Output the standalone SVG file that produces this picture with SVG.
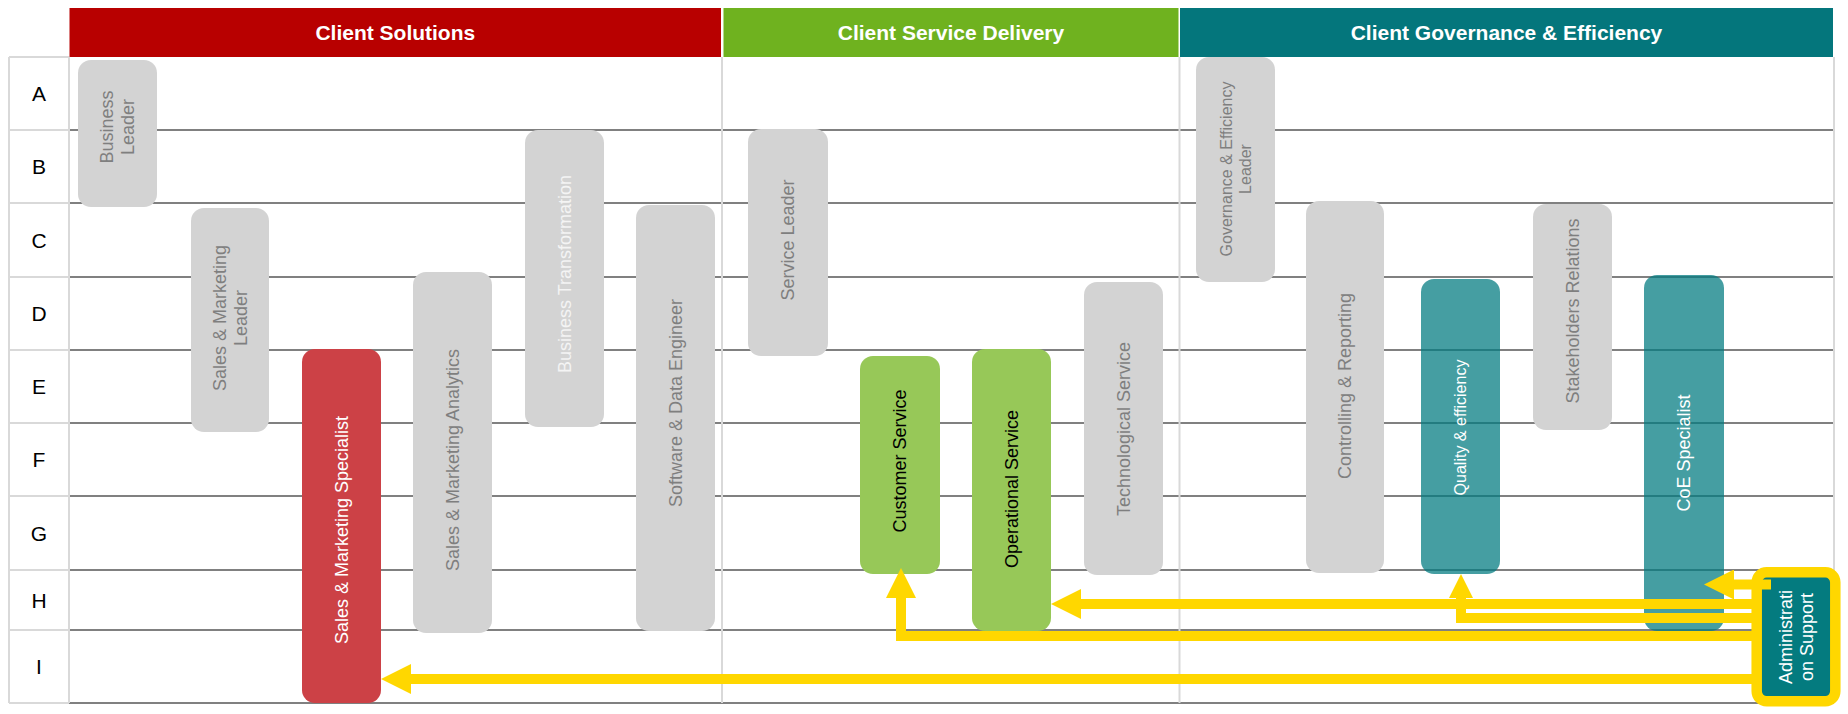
<svg xmlns="http://www.w3.org/2000/svg" width="1848" height="714" viewBox="0 0 1848 714">
<style>
.hdr{font-family:"Liberation Sans",Arial,sans-serif;font-weight:bold;font-size:21px;fill:#ffffff;text-anchor:middle}
.row{font-family:"Liberation Sans",Arial,sans-serif;font-size:21px;fill:#000000;text-anchor:middle}
.lbl{font-family:"Liberation Sans",Arial,sans-serif;font-size:18px;text-anchor:middle}
.gray{fill:#d3d3d3}
.gt{fill:#7f7f7f}
.wt{fill:#ffffff}
.bt{fill:#000000}
.tealT{fill:#007a80;fill-opacity:0.73}
.lgl{stroke:#d9d9d9;stroke-width:2;fill:none}
.dgl{stroke:#808080;stroke-width:2;fill:none}
.conn{stroke:#ffd700;stroke-width:10;fill:none;stroke-linejoin:miter;stroke-linecap:butt}
</style>
<defs>
<marker id="ah" viewBox="0 0 30 30" refX="0" refY="15" markerWidth="30" markerHeight="30" markerUnits="userSpaceOnUse" orient="auto"><path d="M0,0 L30,15 L0,30 Z" fill="#ffd700"/></marker>
<marker id="ahs" viewBox="0 0 24 24" refX="0" refY="12" markerWidth="24" markerHeight="24" markerUnits="userSpaceOnUse" orient="auto"><path d="M0,0 L24,12 L0,24 Z" fill="#ffd700"/></marker>
</defs>
<rect width="1848" height="714" fill="#ffffff"/>

<g id="headers">
<rect x="69.5" y="8" width="651.5" height="49" fill="#b80000"/>
<rect x="723.5" y="8" width="455" height="49" fill="#6fb21f"/>
<rect x="1180" y="8" width="653" height="49" fill="#04767c"/>
<text class="hdr" x="395.3" y="40">Client Solutions</text>
<text class="hdr" x="951" y="40">Client Service Delivery</text>
<text class="hdr" x="1506.5" y="40">Client Governance &amp; Efficiency</text>
</g>

<g id="grid">
<path class="dgl" d="M69,130H1834M69,203H1834M69,277H1834M69,350H1834M69,423H1834M69,496H1834M69,570H1834M69,630H1834M69,703H1834"/>
<path class="lgl" d="M9,57H69M9,130H69M9,203H69M9,277H69M9,350H69M9,423H69M9,496H69M9,570H69M9,630H69M9,703H69"/>
<path class="lgl" d="M9,57V703M69,57V703M722,57V703M1179.5,57V703M1834,57V703"/>
<text class="row" x="39" y="101">A</text>
<text class="row" x="39" y="174">B</text>
<text class="row" x="39" y="248">C</text>
<text class="row" x="39" y="321">D</text>
<text class="row" x="39" y="394">E</text>
<text class="row" x="39" y="467">F</text>
<text class="row" x="39" y="541">G</text>
<text class="row" x="39" y="608">H</text>
<text class="row" x="39" y="674">I</text>
</g>

<g id="business-leader">
<rect class="gray" x="78" y="60" width="79" height="147" rx="13"/>
<text class="lbl gt" transform="translate(117.5,127) rotate(-90)"><tspan x="0" dy="-0.233em">Business</tspan><tspan x="0" dy="1.167em">Leader</tspan></text>
</g>
<g id="sales-marketing-leader">
<rect class="gray" x="191" y="208" width="78" height="224" rx="13"/>
<text class="lbl gt" transform="translate(230,318) rotate(-90)"><tspan x="0" dy="-0.233em">Sales &amp; Marketing</tspan><tspan x="0" dy="1.167em">Leader</tspan></text>
</g>
<g id="sales-marketing-specialist">
<rect x="302" y="349" width="79" height="354" rx="13" fill="#cc4146"/>
<text class="lbl wt" transform="translate(341.5,530) rotate(-90)" dy="0.35em">Sales &amp; Marketing Specialist</text>
</g>
<g id="sales-marketing-analytics">
<rect class="gray" x="413" y="272" width="79" height="361" rx="13"/>
<text class="lbl gt" transform="translate(452.5,460) rotate(-90)" dy="0.35em">Sales &amp; Marketing Analytics</text>
</g>
<g id="business-transformation">
<rect class="gray" x="525" y="130" width="79" height="297" rx="13"/>
<text class="lbl" fill="#f4f4f4" transform="translate(564.5,274) rotate(-90)" dy="0.35em">Business Transformation</text>
</g>
<g id="software-data-engineer">
<rect class="gray" x="636" y="205" width="79" height="426" rx="13"/>
<text class="lbl gt" transform="translate(675.5,403) rotate(-90)" dy="0.35em">Software &amp; Data Engineer</text>
</g>
<g id="service-leader">
<rect class="gray" x="748" y="129" width="80" height="227" rx="13"/>
<text class="lbl gt" transform="translate(788,240) rotate(-90)" dy="0.35em">Service Leader</text>
</g>
<g id="customer-service">
<rect x="860" y="356" width="80" height="218" rx="13" fill="#97c858"/>
<text class="lbl bt" transform="translate(900,461) rotate(-90)" dy="0.35em">Customer Service</text>
</g>
<g id="operational-service">
<rect x="972" y="349" width="79" height="282" rx="13" fill="#97c858"/>
<text class="lbl bt" transform="translate(1011.5,489) rotate(-90)" dy="0.35em">Operational Service</text>
</g>
<g id="technological-service">
<rect class="gray" x="1084" y="282" width="79" height="293" rx="13"/>
<text class="lbl gt" transform="translate(1123.5,429) rotate(-90)" dy="0.35em">Technological Service</text>
</g>
<g id="governance-efficiency-leader">
<rect class="gray" x="1196" y="57" width="79" height="225" rx="13"/>
<text class="lbl gt" style="font-size:16px" transform="translate(1235.5,169) rotate(-90)"><tspan x="0" dy="-0.244em">Governance &amp; Efficiency</tspan><tspan x="0" dy="1.19em">Leader</tspan></text>
</g>
<g id="controlling-reporting">
<rect class="gray" x="1306" y="201" width="78" height="372" rx="13"/>
<text class="lbl gt" transform="translate(1345,386) rotate(-90)" dy="0.35em">Controlling &amp; Reporting</text>
</g>
<g id="quality-efficiency">
<rect class="tealT" x="1421" y="279" width="79" height="295" rx="13"/>
<text class="lbl wt" style="font-size:16px" transform="translate(1460.5,427.5) rotate(-90)" dy="0.35em">Quality &amp; efficiency</text>
</g>
<g id="stakeholders-relations">
<rect class="gray" x="1533" y="204" width="79" height="226" rx="13"/>
<text class="lbl gt" transform="translate(1572.5,311) rotate(-90)" dy="0.35em">Stakeholders Relations</text>
</g>
<g id="coe-specialist">
<rect class="tealT" x="1644" y="275" width="80" height="356" rx="13"/>
<text class="lbl wt" transform="translate(1684,453) rotate(-90)" dy="0.35em">CoE Specialist</text>
</g>
<g id="administration-support">
<rect x="1756.7" y="572.3" width="78.6" height="129" rx="10" fill="#047b7f" stroke="#ffd700" stroke-width="10.5"/>
<text class="lbl wt" transform="translate(1796,637) rotate(-90)"><tspan x="0" dy="-0.25em">Administrati</tspan><tspan x="0" dy="1.2em">on Support</tspan></text>
</g>

<g id="connectors">
<path class="conn" d="M1752,679H411" marker-end="url(#ah)"/>
<path class="conn" d="M1752,636H901V598" marker-end="url(#ah)"/>
<path class="conn" d="M1752,604H1081" marker-end="url(#ah)"/>
<path class="conn" d="M1752,618H1461V598" marker-end="url(#ahs)"/>
<path class="conn" d="M1771,584.5H1734" marker-end="url(#ah)"/>
</g>
</svg>
